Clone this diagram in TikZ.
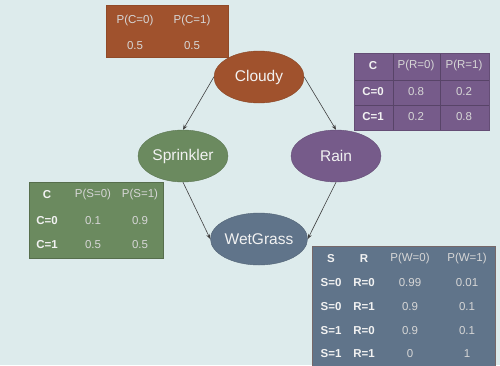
\documentclass[tikz,border=0pt]{standalone}
\usepackage{fontspec}
\setmainfont{Liberation Sans}
\usetikzlibrary{shapes.geometric,arrows.meta}
\definecolor{bgc}{HTML}{DDEBEC}
\definecolor{cloudc}{HTML}{A0522D}
\definecolor{sprc}{HTML}{6B8A5F}
\definecolor{rainc}{HTML}{765B8A}
\definecolor{wetc}{HTML}{60748A}
\definecolor{txtc}{HTML}{F2F2F2}
\definecolor{valc}{HTML}{D6D6D6}
\begin{document}
\begin{tikzpicture}[x=1pt,y=-1pt,
  bnode/.style={ellipse,minimum width=90pt,minimum height=52pt,inner sep=0pt,
    text=txtc,font=\fontsize{15.5}{18}\selectfont},
  edge/.style={draw=black!75,line width=0.6pt,-{Stealth[length=5pt,width=4pt]}},
  hd/.style={text=txtc,font=\fontsize{11.5}{13}\selectfont\bfseries,inner sep=0pt},
  pv/.style={text=valc,font=\fontsize{11.5}{13}\selectfont,inner sep=0pt}]
\fill[bgc] (0,0) rectangle (500,365);
\useasboundingbox (0,0) rectangle (500,365);

% nodes
\node[bnode,fill=cloudc,draw=cloudc!85!black] (cloudy) at (259,77) {Cloudy};
\node[bnode,fill=sprc,draw=sprc!85!black] (sprinkler) at (183,156) {Sprinkler};
\node[bnode,fill=rainc,draw=rainc!85!black] (rain) at (336,156) {Rain};
\node[bnode,fill=wetc,draw=wetc!85!black] (wet) at (259,239) {WetGrass};

\draw[edge] (cloudy.west) -- (sprinkler.north);
\draw[edge] (cloudy.east) -- (rain.north);
\draw[edge] (sprinkler.south) -- (wet.west);
\draw[edge] (rain.south) -- (wet.east);

% Cloudy table
\fill[cloudc,draw=cloudc!90!black,line width=0.5pt] (106,5) rectangle (228,57);
\node[pv] (c1) at (135,21) {P(C=0)};
\node[pv] (c2) at (192,21) {P(C=1)};
\node[pv] (c3) at (135,46) {0.5};
\node[pv] (c4) at (192,46) {0.5};

% Rain table
\fill[rainc] (354,53) rectangle (489,130);
\draw[rainc!75!black,line width=0.6pt] (393,53) -- (393,130) (440,53) -- (440,130)
  (354,80) -- (489,80) (354,105) -- (489,105);
\draw[rainc!85!black,line width=0.5pt] (354,53) rectangle (489,130);
\node[hd] (r1) at (373,66) {C};
\node[pv] (r2) at (416,66) {P(R=0)};
\node[pv] (r3) at (464,66) {P(R=1)};
\node[hd] (r4) at (373,92) {C=0};
\node[pv] (r5) at (416,92) {0.8};
\node[pv] (r6) at (464,92) {0.2};
\node[hd] (r7) at (373,117) {C=1};
\node[pv] (r8) at (416,117) {0.2};
\node[pv] (r9) at (464,117) {0.8};

% Sprinkler table
\fill[sprc,draw=sprc!80!black,line width=0.5pt] (29,182) rectangle (163,258);
\node[hd] (s1) at (47,195) {C};
\node[pv] (s2) at (93,195) {P(S=0)};
\node[pv] (s3) at (140,195) {P(S=1)};
\node[hd] (s4) at (47,221) {C=0};
\node[pv] (s5) at (93,221) {0.1};
\node[pv] (s6) at (140,221) {0.9};
\node[hd] (s7) at (47,245) {C=1};
\node[pv] (s8) at (93,245) {0.5};
\node[pv] (s9) at (140,245) {0.5};

% WetGrass table
\fill[wetc,draw=cloudc!35!wetc,line width=0.4pt] (312,246) rectangle (495,372);
\node[hd] (w1) at (331,259) {S};
\node[hd] (w2) at (364,259) {R};
\node[pv] (w3) at (410,259) {P(W=0)};
\node[pv] (w4) at (467,259) {P(W=1)};
\node[hd] (w5) at (331,283) {S=0};
\node[hd] (w6) at (364,283) {R=0};
\node[pv] (w7) at (410,283) {0.99};
\node[pv] (w8) at (467,283) {0.01};
\node[hd] (w9) at (331,307) {S=0};
\node[hd] (w10) at (364,307) {R=1};
\node[pv] (w11) at (410,307) {0.9};
\node[pv] (w12) at (467,307) {0.1};
\node[hd] (w13) at (331,331) {S=1};
\node[hd] (w14) at (364,331) {R=0};
\node[pv] (w15) at (410,331) {0.9};
\node[pv] (w16) at (467,331) {0.1};
\node[hd] (w17) at (331,354) {S=1};
\node[hd] (w18) at (364,354) {R=1};
\node[pv] (w19) at (410,354) {0};
\node[pv] (w20) at (467,354) {1};
\end{tikzpicture}
\end{document}
